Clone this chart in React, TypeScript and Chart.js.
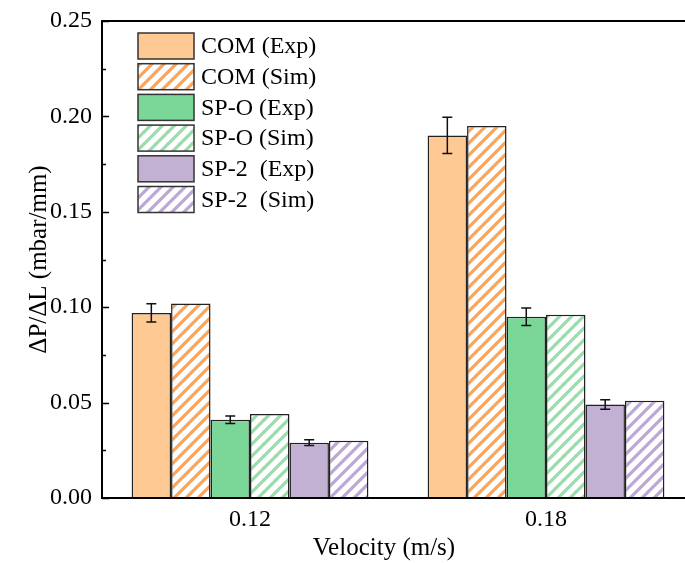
import React, { useEffect, useRef } from 'react';
import { Chart, registerables } from 'chart.js';

Chart.register(...registerables);

// ---- data ----
const categories = ['0.12', '0.18'];
const seriesLabels = ['COM (Exp)', 'COM (Sim)', 'SP-O (Exp)', 'SP-O (Sim)', 'SP-2  (Exp)', 'SP-2  (Sim)'];
const comExp = [0.097, 0.19];
const comExpErr = [0.0048, 0.0095];
const comSim = [0.102, 0.195];
const spoExp = [0.041, 0.095];
const spoExpErr = [0.002, 0.0046];
const spoSim = [0.044, 0.096];
const sp2Exp = [0.029, 0.049];
const sp2ExpErr = [0.0015, 0.0025];
const sp2Sim = [0.03, 0.051];
const yMin = 0;
const yMax = 0.25;
const yStep = 0.05;
const xTitle = 'Velocity (m/s)';
const yTitle = 'ΔP/ΔL (mbar/mm)';

const FONT = "'Liberation Serif', 'Times New Roman', serif";
const ORANGE = '#FFC994';
const ORANGE_STRIPE = '#FFA356';
const GREEN = '#7BD797';
const GREEN_STRIPE = '#97DEAB';
const PURPLE = '#C3B1D4';
const PURPLE_STRIPE = '#BDA6D8';

function makeHatch(color: string) {
  const s = 12;
  const c = document.createElement('canvas');
  c.width = s;
  c.height = s;
  const g = c.getContext('2d')!;
  g.fillStyle = '#ffffff';
  g.fillRect(0, 0, s, s);
  g.strokeStyle = color;
  g.lineWidth = 3.2;
  g.lineCap = 'square';
  g.beginPath();
  for (const o of [-s, 0, s]) {
    g.moveTo(o, s);
    g.lineTo(o + s, 0);
  }
  g.stroke();
  return g.createPattern(c, 'repeat')!;
}

const errorBarPlugin = {
  id: 'errBars',
  afterDatasetsDraw(chart: any) {
    const ctx = chart.ctx;
    const ys = chart.scales.y;
    chart.data.datasets.forEach((ds: any, di: number) => {
      const err = ds.errors;
      if (!err) return;
      const meta = chart.getDatasetMeta(di);
      meta.data.forEach((bar: any, i: number) => {
        const v = ds.data[i];
        const x = bar.x;
        const yt = ys.getPixelForValue(v + err[i]);
        const yb = ys.getPixelForValue(v - err[i]);
        ctx.save();
        ctx.strokeStyle = '#111';
        ctx.lineWidth = 1.5;
        ctx.beginPath();
        ctx.moveTo(x, yt);
        ctx.lineTo(x, yb);
        ctx.moveTo(x - 5, yt);
        ctx.lineTo(x + 5, yt);
        ctx.moveTo(x - 5, yb);
        ctx.lineTo(x + 5, yb);
        ctx.stroke();
        ctx.restore();
      });
    });
  },
};

const framePlugin = {
  id: 'frame',
  afterDatasetsDraw(chart: any) {
    const { ctx, chartArea } = chart;
    const { left, right, top, bottom } = chartArea;
    const ys = chart.scales.y;
    ctx.save();
    ctx.strokeStyle = '#000';
    ctx.lineWidth = 2;
    ctx.beginPath();
    ctx.moveTo(left, top);
    ctx.lineTo(right, top);
    ctx.lineTo(right, bottom);
    ctx.lineTo(left, bottom);
    ctx.closePath();
    ctx.stroke();
    // inward ticks on y axis
    ctx.lineWidth = 1.5;
    ctx.beginPath();
    for (let v = yMin; v <= yMax + 1e-9; v += yStep / 2) {
      const major = Math.abs(v / yStep - Math.round(v / yStep)) < 1e-6;
      const py = Math.round(ys.getPixelForValue(v)) + 0.5;
      const len = major ? 7 : 4;
      ctx.moveTo(left, py);
      ctx.lineTo(left + len, py);
    }
    ctx.stroke();
    ctx.restore();
  },
};

const legendTitlePlugin = {
  id: 'legendTitles',
  afterDraw(chart: any) {
    const { ctx, chartArea } = chart;
    ctx.save();
    // legend
    const bx = 138;
    const by = 33;
    const bw = 56;
    const bh = 26;
    const pitch = 30.7;
    ctx.font = `24px ${FONT}`;
    ctx.textBaseline = 'middle';
    ctx.textAlign = 'left';
    chart.data.datasets.forEach((ds: any, i: number) => {
      const y = by + i * pitch;
      ctx.fillStyle = ds.backgroundColor;
      ctx.fillRect(bx, y, bw, bh);
      ctx.strokeStyle = '#333';
      ctx.lineWidth = 1.5;
      ctx.strokeRect(bx, y, bw, bh);
      ctx.fillStyle = '#000';
      ctx.fillText(ds.label, bx + 63, y + bh / 2 + 1);
    });
    // x title
    ctx.font = `25px ${FONT}`;
    ctx.textAlign = 'center';
    ctx.textBaseline = 'alphabetic';
    ctx.fillStyle = '#000';
    ctx.fillText(xTitle, 384, 555);
    // y title
    ctx.translate(46, (chartArea.top + chartArea.bottom) / 2);
    ctx.rotate(-Math.PI / 2);
    ctx.fillText(yTitle, 0, 0);
    ctx.restore();
  },
};

export default function App() {
  const ref = useRef<HTMLCanvasElement | null>(null);

  useEffect(() => {
    if (!ref.current) return;
    const border = '#222';
    const chart = new Chart(ref.current, {
      type: 'bar',
      data: {
        labels: categories,
        datasets: [
          { label: seriesLabels[0], data: comExp, errors: comExpErr, backgroundColor: ORANGE, borderColor: border, borderWidth: 1.5 } as any,
          { label: seriesLabels[1], data: comSim, backgroundColor: makeHatch(ORANGE_STRIPE), borderColor: border, borderWidth: 1.5 } as any,
          { label: seriesLabels[2], data: spoExp, errors: spoExpErr, backgroundColor: GREEN, borderColor: border, borderWidth: 1.5 } as any,
          { label: seriesLabels[3], data: spoSim, backgroundColor: makeHatch(GREEN_STRIPE), borderColor: border, borderWidth: 1.5 } as any,
          { label: seriesLabels[4], data: sp2Exp, errors: sp2ExpErr, backgroundColor: PURPLE, borderColor: border, borderWidth: 1.5 } as any,
          { label: seriesLabels[5], data: sp2Sim, backgroundColor: makeHatch(PURPLE_STRIPE), borderColor: border, borderWidth: 1.5 } as any,
        ],
      },
      options: {
        responsive: false,
        maintainAspectRatio: false,
        animation: false,
        devicePixelRatio: 1,
        layout: { padding: { left: 0, top: 21, right: 6, bottom: 0 } },
        plugins: {
          legend: { display: false },
          tooltip: { enabled: false },
          title: { display: false },
        },
        datasets: {
          bar: { categoryPercentage: 0.8, barPercentage: 1.0 },
        },
        scales: {
          x: {
            type: 'category',
            offset: true,
            grid: { display: true, drawOnChartArea: false, drawTicks: false },
            border: { display: false },
            ticks: { color: '#000', font: { family: FONT, size: 24 }, padding: 7 },
            afterFit: (s: any) => {
              s.height = 65;
              s.paddingLeft = 0;
              s.paddingRight = 0;
            },
          },
          y: {
            type: 'linear',
            min: yMin,
            max: yMax,
            grid: { display: true, drawOnChartArea: false, drawTicks: false },
            border: { display: false },
            ticks: {
              stepSize: yStep,
              color: '#000',
              font: { family: FONT, size: 24 },
              padding: 10,
              callback: (v: any) => Number(v).toFixed(2),
            },
            afterFit: (s: any) => {
              s.width = 102;
              s.paddingTop = 0;
              s.paddingBottom = 0;
            },
          },
        },
      } as any,
      plugins: [framePlugin, errorBarPlugin, legendTitlePlugin],
    });
    return () => chart.destroy();
  }, []);

  return (
    <div style={{ position: 'fixed', left: 0, top: 0, width: 685, height: 563, overflow: 'hidden', background: '#fff' }}>
      <canvas ref={ref} width={700} height={563} style={{ display: 'block', width: 700, height: 563 }} />
    </div>
  );
}
